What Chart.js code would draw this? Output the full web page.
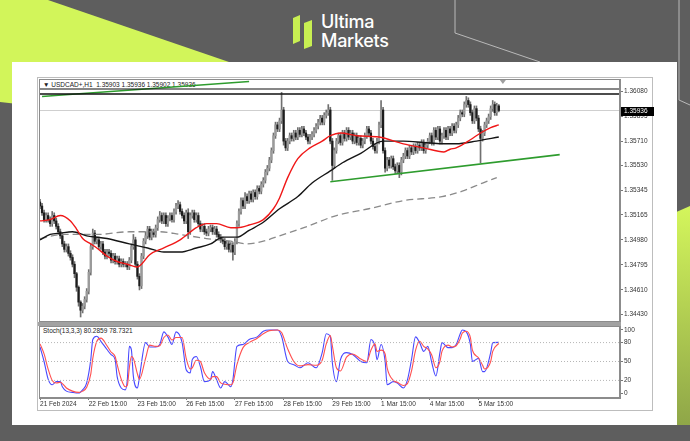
<!DOCTYPE html>
<html>
<head>
<meta charset="utf-8">
<script src="https://cdn.jsdelivr.net/npm/chart.js@4.4.1/dist/chart.umd.min.js"></script>
<style>
  html, body { margin: 0; padding: 0; }
  body { width: 690px; height: 441px; position: relative; overflow: hidden; background: #5e5e5e; font-family: "Liberation Sans", Arial, sans-serif; }
  #bg { position: absolute; left: 0; top: 0; }
  .brand { position: absolute; left: 321px; top: 12px; color: #fff; font-family: Inter, Roboto, sans-serif; font-weight: 500; font-size: 18px; line-height: 19px; letter-spacing: -0.3px; }
  #card { position: absolute; left: 12px; top: 62px; width: 665px; height: 363px; background: #fff; }
  #mt4 { position: absolute; left: 37px; top: 77px; width: 614px; height: 332px; border: 1px solid #bdbdbd; }
  .sep { position: absolute; left: 38px; top: 322px; width: 583px; height: 4px; background: #a2a2a2; }
  .label { position: absolute; font-size: 6.5px; line-height: 8px; color: #222; white-space: pre; }
  canvas { position: absolute; }
  #priceChart { left: 39px; top: 79px; }
  #stochChart { left: 39px; top: 326px; }
</style>
</head>
<body>
<svg id="bg" width="690" height="441">
  <defs>
    <linearGradient id="limeFade" x1="0" y1="0" x2="0" y2="1">
      <stop offset="0" stop-color="#d4f65c"/>
      <stop offset="1" stop-color="#8fa648"/>
    </linearGradient>
  </defs>
  <polygon points="0,0 48,0 515,160 0,102" fill="#d2f55a"/>
  <polygon points="640,228 690,206 690,425 640,425" fill="url(#limeFade)"/>
  <polyline points="455,0 455,33 540,62" fill="none" stroke="#b9b9b9" stroke-width="1"/>
  <polyline points="679,0 679,100 690,105" fill="none" stroke="#b9b9b9" stroke-width="1"/>
  <polygon points="293,18 300,15 300,41 293,44" fill="#c8ef52"/>
  <polygon points="304,23 312,20 312,46 304,49" fill="#c8ef52"/>
</svg>
<div class="brand">Ultima<br>Markets</div>
<div id="card"></div>
<div id="mt4"></div>
<div class="label" style="left:43px; top:81px;">▼ USDCAD+,H1  1.35903 1.35936 1.35902 1.35936</div>
<div class="sep"></div>
<div class="label" style="left:43px; top:327px;">Stoch(13,3,3) 80.2859 78.7321</div>
<canvas id="priceChart" width="621" height="243"></canvas>
<canvas id="stochChart" width="621" height="88"></canvas>

<script>
// Données USDCAD H1
const pip = 0.0001;
const firstOpen = 1.3526;
const closes = [
  1.3523,1.3518,1.3513,1.3516,1.3513,1.3510,1.3516,1.3512,1.3508,1.3504,1.3501,1.3495,1.3491,1.3493,1.3488,1.3485,1.3480,1.3473,1.3463,1.3452,1.3446,1.3449,1.3454,1.3460,
  1.3474,1.3493,1.3503,1.3497,1.3498,1.3493,1.3495,1.3489,1.3486,1.3489,1.3488,1.3483,1.3486,1.3482,1.3484,1.3480,1.3482,1.3480,1.3480,1.3478,1.3483,1.3493,1.3498,1.3480,
  1.3471,1.3464,1.3486,1.3497,1.3501,1.3506,1.3500,1.3504,1.3502,1.3507,1.3513,1.3516,1.3512,1.3516,1.3510,1.3514,1.3516,1.3513,1.3519,1.3523,1.3524,1.3519,1.3516,1.3512,
  1.3518,1.3504,1.3516,1.3518,1.3513,1.3516,1.3510,1.3506,1.3508,1.3504,1.3503,1.3506,1.3507,1.3504,1.3506,1.3502,1.3500,1.3498,1.3497,1.3493,1.3495,1.3491,1.3494,1.3489,
  1.3497,1.3510,1.3519,1.3527,1.3523,1.3530,1.3527,1.3532,1.3528,1.3533,1.3530,1.3536,1.3534,1.3539,1.3542,1.3548,1.3551,1.3557,1.3564,1.3575,1.3583,1.3580,1.3586,1.3594,
  1.3571,1.3566,1.3571,1.3575,1.3573,1.3577,1.3574,1.3579,1.3576,1.3580,1.3577,1.3574,1.3571,1.3574,1.3576,1.3579,1.3582,1.3585,1.3588,1.3585,1.3590,1.3592,1.3594,1.3571,
  1.3553,1.3564,1.3571,1.3575,1.3570,1.3577,1.3573,1.3579,1.3574,1.3577,1.3571,1.3575,1.3570,1.3573,1.3568,1.3571,1.3575,1.3580,1.3577,1.3571,1.3567,1.3564,1.3571,1.3583,
  1.3594,1.3564,1.3551,1.3557,1.3553,1.3558,1.3552,1.3549,1.3553,1.3548,1.3557,1.3560,1.3564,1.3560,1.3566,1.3563,1.3567,1.3564,1.3568,1.3566,1.3570,1.3564,1.3568,1.3571,
  1.3575,1.3570,1.3579,1.3574,1.3580,1.3571,1.3575,1.3579,1.3574,1.3580,1.3577,1.3582,1.3579,1.3583,1.3588,1.3592,1.3591,1.3598,1.3601,1.3598,1.3592,1.3586,1.3595,1.3588,
  1.3580,1.3573,1.3577,1.3583,1.3586,1.3589,1.3595,1.3598,1.3592,1.3597,1.35936
];
// mèches au-delà du corps, en pips
const wickUp = [
  2,2,2,2,2,2,3,2,2,2,2,2,2,2,2,2,2,2,1,1,1,2,2,2,
  2,2,3,2,2,2,2,2,2,2,2,2,2,2,2,2,2,2,2,2,2,2,4,2,
  2,2,2,2,3,2,2,2,2,2,2,3,2,2,2,2,2,2,2,2,3,2,2,2,
  2,3,2,2,2,2,2,2,2,2,2,2,2,2,2,2,2,2,2,2,2,2,2,2,
  2,2,2,2,2,3,2,2,2,2,2,2,2,2,2,2,2,2,2,2,2,2,2,13,
  2,2,2,2,2,2,2,2,2,2,2,2,2,2,2,2,2,2,2,2,2,2,4,2,
  2,2,2,2,2,2,2,2,2,2,2,2,2,2,2,2,2,2,2,2,2,2,2,2,
  7,2,2,2,2,2,2,2,2,2,2,2,2,2,2,2,2,2,2,2,2,2,2,2,
  2,2,2,2,2,2,2,2,2,2,2,2,2,2,2,2,2,2,3,2,2,2,2,2,
  2,2,2,2,2,2,2,3,2,2,1
];
const wickDn = [
  2,2,2,2,2,2,2,2,2,2,2,2,2,2,2,2,2,3,3,3,5,2,2,2,
  2,2,2,2,2,2,2,2,2,2,2,2,2,2,2,2,2,2,2,2,2,2,2,2,
  2,3,2,2,2,2,2,2,2,2,2,2,2,2,2,2,2,2,2,2,2,2,2,2,
  2,5,2,2,2,2,2,2,2,2,2,2,2,2,2,2,2,2,2,2,2,2,2,6,
  2,2,2,2,2,2,2,2,2,2,2,2,2,2,2,2,2,2,2,2,2,2,2,2,
  3,2,2,2,2,2,2,2,2,2,2,2,2,2,2,2,2,2,2,2,2,2,2,2,
  11,2,2,2,2,2,2,2,2,2,2,2,2,2,2,2,2,2,2,2,2,2,2,2,
  2,2,3,2,2,2,2,2,2,4,2,2,2,2,2,2,2,2,2,2,2,2,2,2,
  2,2,2,2,2,2,2,2,2,2,2,2,2,2,2,2,2,2,2,2,2,2,2,2,
  2,18,2,2,2,2,2,2,2,2,1
];

// moyennes mobiles (index de bougie -> prix)
const redIdx = [0,5,10,15,18,21,25,28,33,38,43,48,50,54,61,69,77,82,87,94,97,103,110,115,118,122,127,133,139,143,148,156,167,179,189,199,202,205,212,217,222,226];
const redVal = [1.3512,1.3513,1.3516,1.3512,1.3506,1.3499,1.3495,1.3492,1.3486,1.3482,1.3480,1.3478,1.3480,1.3487,1.3492,1.3498,1.3507,1.3510,1.3510,1.3507,1.3507,1.3509,1.3513,1.3521,1.3529,1.3544,1.3558,1.3566,1.3571,1.3575,1.3577,1.3575,1.3574,1.3569,1.3566,1.3563,1.3565,1.3566,1.3572,1.3577,1.3581,1.3583];
const blackIdx = [0,5,10,16,23,33,44,53,61,69,77,84,90,97,103,110,118,127,134,143,149,158,169,179,189,198,205,215,226];
const blackVal = [1.3498,1.3502,1.3503,1.3504,1.3501,1.3499,1.3495,1.3492,1.3489,1.3489,1.3492,1.3495,1.3500,1.3500,1.3505,1.3511,1.3521,1.3530,1.3540,1.3549,1.3555,1.3562,1.3571,1.3571,1.3570,1.3569,1.3569,1.3571,1.3574];
const grayIdx = [0,11,28,44,59,69,82,94,102,110,118,130,146,162,179,198,208,218,225];
const grayVal = [1.3499,1.3502,1.3502,1.3504,1.3504,1.3502,1.3499,1.3497,1.3495,1.3497,1.3501,1.3507,1.3516,1.3521,1.3527,1.3530,1.3534,1.3540,1.3544];

// objets tracés
const trendTopIdx = [1, 103];
const trendTopVal = [1.3604, 1.3615];
const supportIdx = [143, 256];
const supportVal = [1.3541, 1.3561];
const resistLevels = [1.36095, 1.36058];
const bidPrice = 1.35936;
const shiftBar = 228;

const priceTicks = [1.3608, 1.35895, 1.3571, 1.3553, 1.35345, 1.35165, 1.3498, 1.34795, 1.3461, 1.3443];
const dateTicks = [0, 24, 48, 72, 96, 120, 144, 168, 192, 216];
const dateLabels = ["21 Feb 2024", "22 Feb 15:00", "23 Feb 15:00", "26 Feb 15:00", "27 Feb 15:00", "28 Feb 15:00", "29 Feb 15:00", "1 Mar 15:00", "4 Mar 15:00", "5 Mar 15:00"];

// Stochastique
const stochIdx = [0,2,4,6,8,10,11,13,16,19,21,23,25,26,28,30,33,35,37,38,40,42,43,44,45,46,48,49,52,54,57,59,61,63,65,67,70,72,74,75,77,79,81,84,85,87,89,91,94,95,97,100,103,107,110,113,117,119,122,125,128,132,136,139,141,143,144,146,148,151,154,158,161,163,165,166,168,170,171,174,176,179,181,183,185,187,189,191,193,195,197,198,201,203,205,207,208,210,212,213,216,218,219,222,223,226];
const stochK = [73,50,22,13,18,18,10,3,1,0,5,16,53,85,90,82,69,61,53,26,8,5,21,74,69,26,8,26,80,73,73,77,97,89,77,97,80,37,32,53,58,42,18,21,34,21,8,18,10,21,74,77,85,89,98,100,100,90,50,45,40,48,40,64,94,90,48,18,53,64,61,50,48,85,74,53,77,50,13,18,16,8,21,53,89,80,66,74,48,27,64,80,72,72,77,94,100,97,77,50,55,34,34,64,80,80.29];
const stochD = [78,62,38,20,16,17,15,8,3,1,3,9,30,55,82,87,75,65,58,45,22,10,12,40,58,55,30,22,55,76,74,75,88,92,84,88,88,55,38,40,52,50,32,22,26,26,16,14,13,16,45,72,80,87,94,99,100,96,70,50,43,45,44,52,78,91,75,40,35,57,62,54,50,68,78,66,68,62,40,20,17,12,15,35,68,82,74,70,60,40,50,66,76,73,75,86,95,98,88,68,56,44,38,50,66,78.73];
const stochLevels = [80, 50, 20];
const stochTicks = [100, 80, 50, 20, 0];

const axisFont = { family: "Liberation Sans", size: 6.5 };

const opens = closes.map((c, i) => i === 0 ? firstOpen : closes[i - 1]);
const wickData = closes.map((c, i) => ({
  x: i,
  y: [Math.min(opens[i], c) - wickDn[i] * pip, Math.max(opens[i], c) + wickUp[i] * pip]
}));
const bodyData = closes.map((c, i) => ({ x: i, y: [opens[i], c] }));
const bodyColors = closes.map((c, i) => c >= opens[i] ? "#9a9a9a" : "#1c1c1c");

const toPoints = (idx, vals) => idx.map((x, j) => ({ x: x, y: vals[j] }));

const framePlugin = {
  id: "frame",
  afterDraw (chart) {
    const { ctx, chartArea: a } = chart;
    ctx.save();
    ctx.strokeStyle = "#8c8c8c";
    ctx.lineWidth = 1;
    ctx.strokeRect(a.left + 0.5, a.top + 0.5, a.right - a.left - 1, a.bottom - a.top - 1);
    ctx.restore();
  }
};

const bidPlugin = {
  id: "bid",
  afterDraw (chart) {
    const { ctx, chartArea: a, scales } = chart;
    const y = Math.round(scales.y.getPixelForValue(bidPrice));
    ctx.save();
    ctx.fillStyle = "#000";
    ctx.fillRect(a.right + 1, y - 4, 33, 9);
    ctx.fillStyle = "#fff";
    ctx.font = '6.5px "Liberation Sans"';
    ctx.textBaseline = "middle";
    ctx.fillText(bidPrice.toFixed(5), a.right + 4, y + 0.5);
    // marqueur de décalage
    const sx = scales.x.getPixelForValue(shiftBar);
    ctx.fillStyle = "#a0a0a0";
    ctx.beginPath();
    ctx.moveTo(sx - 3, a.top + 1);
    ctx.lineTo(sx + 3, a.top + 1);
    ctx.lineTo(sx, a.top + 5);
    ctx.fill();
    ctx.restore();
  }
};

const lineStyle = { type: "line", pointRadius: 0, fill: false, cubicInterpolationMode: "monotone" };
const xMin = -0.5, xMax = 285.7;

new Chart(document.getElementById("priceChart"), {
  type: "bar",
  data: {
    datasets: [
      { ...lineStyle, data: [{ x: xMin, y: bidPrice }, { x: xMax, y: bidPrice }], borderColor: "#cfcfcf", borderWidth: 1, order: 20 },
      { type: "bar", data: wickData, backgroundColor: "#707070", barThickness: 1, grouped: false, order: 12 },
      { type: "bar", data: bodyData, backgroundColor: bodyColors, barThickness: 1.6, minBarLength: 1, grouped: false, order: 11 },
      { ...lineStyle, data: toPoints(grayIdx, grayVal), borderColor: "#8a8a8a", borderWidth: 1.3, borderDash: [7, 4], order: 6 },
      { ...lineStyle, data: toPoints(blackIdx, blackVal), borderColor: "#151515", borderWidth: 1.4, order: 5 },
      { ...lineStyle, data: toPoints(redIdx, redVal), borderColor: "#f01818", borderWidth: 1.4, order: 4 },
      { ...lineStyle, data: toPoints(trendTopIdx, trendTopVal), borderColor: "#2e9c2e", borderWidth: 1.5, order: 3 },
      { ...lineStyle, data: toPoints(supportIdx, supportVal), borderColor: "#2e9c2e", borderWidth: 1.6, order: 3 },
      { ...lineStyle, data: [{ x: xMin, y: resistLevels[0] }, { x: xMax, y: resistLevels[0] }], borderColor: "#111", borderWidth: 1.2, order: 2 },
      { ...lineStyle, data: [{ x: xMin, y: resistLevels[1] }, { x: xMax, y: resistLevels[1] }], borderColor: "#111", borderWidth: 1.6, order: 2 }
    ]
  },
  options: {
    responsive: false,
    animation: false,
    layout: { padding: 0 },
    plugins: { legend: { display: false }, tooltip: { enabled: false } },
    scales: {
      x: { type: "linear", min: xMin, max: xMax, offset: false, display: false },
      y: {
        type: "linear", position: "right", min: 1.34373, max: 1.36169,
        afterBuildTicks: s => { s.ticks = priceTicks.map(v => ({ value: v })); },
        afterFit: s => { s.width = 40; s.paddingTop = 0; s.paddingBottom = 0; },
        ticks: { callback: v => v.toFixed(5), font: axisFont, color: "#333", padding: 1 },
        grid: { drawOnChartArea: false, tickLength: 3, color: "#777" },
        border: { color: "#8c8c8c" }
      }
    }
  },
  plugins: [framePlugin, bidPlugin]
});

new Chart(document.getElementById("stochChart"), {
  type: "line",
  data: {
    datasets: [
      ...stochLevels.map(l => ({ ...lineStyle, data: [{ x: xMin, y: l }, { x: xMax, y: l }], borderColor: "#b5b5b5", borderWidth: 1, borderDash: [1, 2] })),
      { ...lineStyle, data: toPoints(stochIdx, stochD), borderColor: "#ff5050", borderWidth: 1.1 },
      { ...lineStyle, data: toPoints(stochIdx, stochK), borderColor: "#4848ff", borderWidth: 1.1 }
    ]
  },
  options: {
    responsive: false,
    animation: false,
    layout: { padding: 0 },
    plugins: { legend: { display: false }, tooltip: { enabled: false } },
    scales: {
      x: {
        type: "linear", min: xMin, max: xMax, offset: false,
        afterBuildTicks: s => { s.ticks = dateTicks.map(v => ({ value: v })); },
        afterFit: s => { s.height = 16; s.paddingLeft = 0; s.paddingRight = 0; },
        ticks: { callback: (v, i) => dateLabels[i], align: "start", autoSkip: false, maxRotation: 0, font: axisFont, color: "#333", padding: 0 },
        grid: { drawOnChartArea: false, tickLength: 2, color: "#777" },
        border: { color: "#8c8c8c" }
      },
      y: {
        type: "linear", position: "right", min: -7.9, max: 106.3,
        afterBuildTicks: s => { s.ticks = stochTicks.map(v => ({ value: v })); },
        afterFit: s => { s.width = 40; s.paddingTop = 0; s.paddingBottom = 0; },
        ticks: { font: axisFont, color: "#333", padding: 1 },
        grid: { drawOnChartArea: false, tickLength: 3, color: "#777" },
        border: { color: "#8c8c8c" }
      }
    }
  },
  plugins: [framePlugin]
});
</script>
</body>
</html>
